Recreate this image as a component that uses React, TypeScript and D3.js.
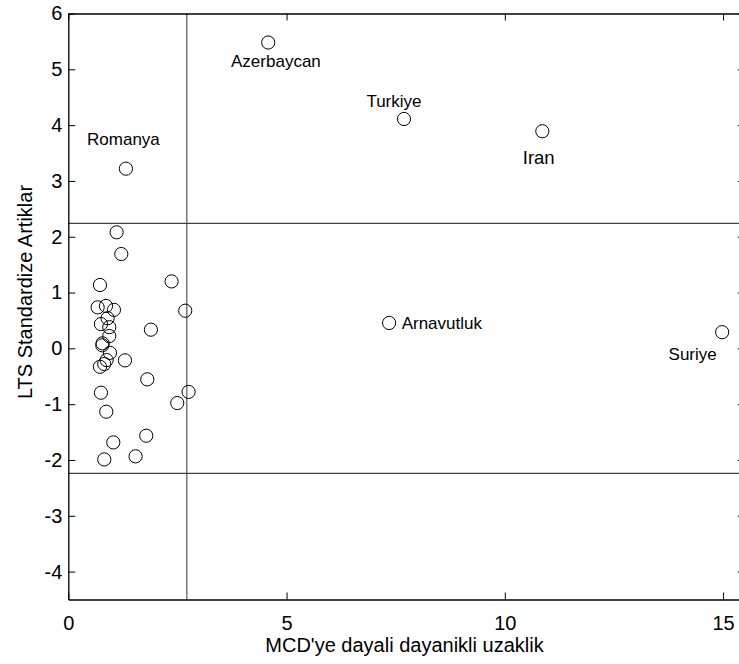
import React, { useRef, useEffect } from "react";
import * as d3 from "d3";

// robust distance (MCD) and LTS standardized residual for each country
const mcdDistance = [
  1.107, 1.214, 0.725, 2.366, 0.672, 0.863, 1.046, 2.679, 0.748, 0.9,
  0.939, 0.939, 1.893, 0.786, 0.779, 0.954, 0.878, 0.824, 0.725, 1.298,
  1.809, 0.748, 2.756, 2.496, 0.87, 1.786, 1.031, 1.542, 0.824,
];
const ltsResidual = [
  2.08, 1.69, 1.135, 1.2, 0.735, 0.76, 0.69, 0.675, 0.435, 0.54,
  0.38, 0.22, 0.335, 0.09, 0.055, -0.08, -0.21, -0.28, -0.33, -0.215,
  -0.555, -0.795, -0.78, -0.98, -1.135, -1.565, -1.685, -1.935, -1.99,
];

// outlying countries, named on the chart
const outlierNames = ["Romanya", "Azerbaycan", "Turkiye", "Iran", "Arnavutluk", "Suriye"];
const outlierDistance = [1.32, 4.58, 7.69, 10.86, 7.35, 14.98];
const outlierResidual = [3.22, 5.48, 4.11, 3.89, 0.455, 0.29];

// cut-off lines
const distanceCutoff = 2.716;
const residualCutoff = 2.24;

const xTicks = [0, 5, 10, 15];
const yTicks = [-4, -3, -2, -1, 0, 1, 2, 3, 4, 5, 6];

// where each name sits relative to its circle
const labelPlacement = {
  Romanya: { dx: -2.5, dy: -23.5, anchor: "middle", size: 17 },
  Azerbaycan: { dx: 7.7, dy: 24, anchor: "middle", size: 17 },
  Turkiye: { dx: -10, dy: -11.7, anchor: "middle", size: 17 },
  Iran: { dx: -3.6, dy: 33, anchor: "middle", size: 18.5 },
  Arnavutluk: { dx: 12.5, dy: 6, anchor: "start", size: 17 },
  Suriye: { dx: -29.5, dy: 28, anchor: "middle", size: 17 },
};

const font = "'Liberation Sans', Arial, Helvetica, sans-serif";

function OutlierPlot() {
  const svgRef = useRef(null);

  useEffect(() => {
    d3.select(svgRef.current).selectAll("*").remove();

    const width = 739;
    const height = 664;
    const left = 68.3;
    const top = 13.5;
    const bottom = 599.5;
    const unit = 43.65;

    const svg = d3.select(svgRef.current)
      .attr("width", width)
      .attr("height", height);

    const x = d3.scaleLinear().domain([0, 15.5]).range([left, left + 15.5 * unit]);
    const y = d3.scaleLinear().domain([-4.5, 6]).range([bottom, top]);
    const right = x(15.5);

    svg.append("rect")
      .attr("width", width).attr("height", height).attr("fill", "#fff");

    // cut-off lines
    const g = svg.append("g");
    g.append("line")
      .attr("x1", x(distanceCutoff)).attr("x2", x(distanceCutoff))
      .attr("y1", top).attr("y2", bottom)
      .attr("stroke", "#333").attr("stroke-width", 1);
    [residualCutoff, -residualCutoff].forEach(v => {
      g.append("line")
        .attr("x1", left).attr("x2", right)
        .attr("y1", y(v)).attr("y2", y(v))
        .attr("stroke", "#444").attr("stroke-width", 1.1);
    });

    // axes box with inward ticks on all sides
    const tickLen = 7;
    svg.append("g")
      .attr("transform", `translate(0, ${bottom})`)
      .call(d3.axisBottom(x).tickValues(xTicks).tickSizeInner(-tickLen).tickSizeOuter(0).tickPadding(tickLen + 9))
      .call(a => a.select(".domain").attr("stroke-width", 1.3));
    svg.append("g")
      .attr("transform", `translate(0, ${top})`)
      .call(d3.axisTop(x).tickValues(xTicks).tickSizeInner(-tickLen).tickSizeOuter(0).tickFormat(() => ""))
      .call(a => a.select(".domain").attr("stroke-width", 1.3));
    svg.append("g")
      .attr("transform", `translate(${left}, 0)`)
      .call(d3.axisLeft(y).tickValues(yTicks).tickSizeInner(-tickLen).tickSizeOuter(0).tickPadding(6).tickFormat(d3.format("d")))
      .call(a => a.select(".domain").attr("stroke-width", 1.3));
    svg.append("g")
      .attr("transform", `translate(${right}, 0)`)
      .call(d3.axisRight(y).tickValues(yTicks).tickSizeInner(-tickLen).tickSizeOuter(0).tickFormat(() => ""))
      .call(a => a.select(".domain").attr("stroke-width", 1.3));

    svg.selectAll(".tick text")
      .attr("font-family", font)
      .attr("font-size", 20)
      .attr("fill", "#000");
    svg.selectAll(".tick text").text(function () {
      return d3.select(this).text().replace("−", "-");
    });

    // points
    const pts = mcdDistance.map((d, i) => [d, ltsResidual[i]])
      .concat(outlierDistance.map((d, i) => [d, outlierResidual[i]]));
    svg.append("g")
      .selectAll("circle")
      .data(pts)
      .join("circle")
        .attr("cx", d => x(d[0]))
        .attr("cy", d => y(d[1]))
        .attr("r", 6.6)
        .attr("fill", "none")
        .attr("stroke", "#000")
        .attr("stroke-width", 1);

    // names of outliers
    svg.append("g")
      .selectAll("text")
      .data(outlierNames)
      .join("text")
        .attr("x", (n, i) => x(outlierDistance[i]) + labelPlacement[n].dx)
        .attr("y", (n, i) => y(outlierResidual[i]) + labelPlacement[n].dy)
        .attr("text-anchor", n => labelPlacement[n].anchor)
        .attr("font-family", font)
        .attr("font-size", n => labelPlacement[n].size)
        .text(n => n);

    // axis titles
    svg.append("text")
      .attr("x", 404.5).attr("y", 652)
      .attr("text-anchor", "middle")
      .attr("font-family", font).attr("font-size", 20)
      .text("MCD'ye dayali dayanikli uzaklik");
    svg.append("text")
      .attr("transform", `translate(31.5, 292) rotate(-90)`)
      .attr("text-anchor", "middle")
      .attr("font-family", font).attr("font-size", 20)
      .text("LTS Standardize Artiklar");
  }, []);

  return (
    <svg ref={svgRef} style={{ position: "absolute", left: 0, top: 0, overflow: "hidden" }}></svg>
  );
}

export default function App() {
  return (
    <div>
      <OutlierPlot />
    </div>
  );
}
